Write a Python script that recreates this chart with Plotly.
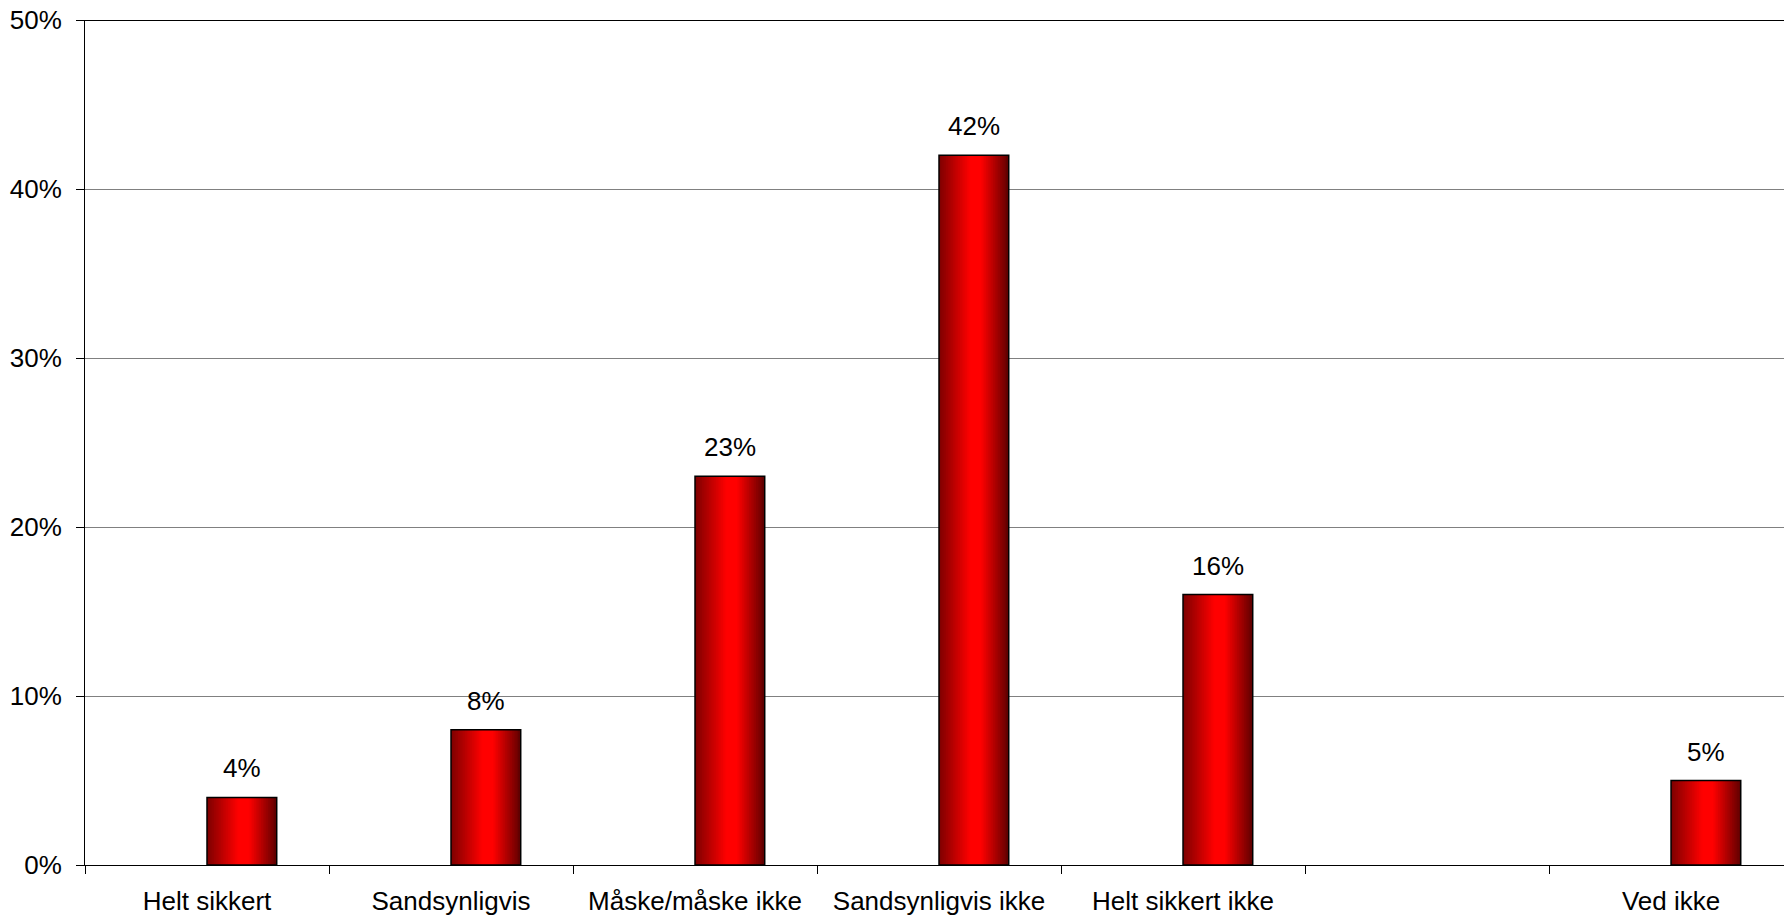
import plotly.graph_objects as go

categories = ["Helt sikkert", "Sandsynligvis", "Måske/måske ikke", "Sandsynligvis ikke",
              "Helt sikkert ikke", " ", "Ved ikke"]
values = [0.04, 0.08, 0.23, 0.42, 0.16, None, 0.05]
value_labels = ["4%", "8%", "23%", "42%", "16%", "", "5%"]
y_ticks = [0, 0.1, 0.2, 0.3, 0.4, 0.5]

FONT = "Liberation Sans, Arial, sans-serif"
bar_w = 1 / 3.5          # Excel gap width 150% with two series; shown series is the 2nd
bar_off = 0.0            # bar starts at category centre

# gradient stops (fraction across bar, rgb)
stops = [(0.0, (125, 0, 0)), (0.45, (255, 0, 0)), (0.6, (255, 0, 0)), (1.0, (95, 0, 0))]

def grad(t):
    for (t0, c0), (t1, c1) in zip(stops[:-1], stops[1:]):
        if t0 <= t <= t1:
            f = 0 if t1 == t0 else (t - t0) / (t1 - t0)
            return "rgb(%d,%d,%d)" % tuple(round(a + (b - a) * f) for a, b in zip(c0, c1))
    return "rgb(%d,%d,%d)" % stops[-1][1]

fig = go.Figure()
N = 40
sw = bar_w / N
for i in range(N):
    t = (i + 0.5) / N
    w = sw * 1.6 if i < N - 1 else sw
    fig.add_trace(go.Bar(
        x=categories, y=values,
        width=[w] * len(categories), offset=[bar_off + i * sw] * len(categories),
        marker=dict(color=grad(t), line=dict(width=0)),
        hoverinfo="skip", showlegend=False,
    ))

# outline
fig.add_trace(go.Bar(
    x=categories, y=values,
    width=[bar_w] * len(categories), offset=[bar_off] * len(categories),
    marker=dict(color="rgba(0,0,0,0)", line=dict(color="black", width=1.5)),
    showlegend=False,
))

for i, (v, lab) in enumerate(zip(values, value_labels)):
    if v is None:
        continue
    fig.add_annotation(x=i + bar_off + bar_w / 2, y=v, text=lab, showarrow=False,
                       yanchor="bottom", yshift=12,
                       font=dict(family=FONT, size=26, color="black"))

fig.add_shape(type="line", xref="paper", yref="y", x0=0, x1=1, y0=0.5, y1=0.5,
              line=dict(color="black", width=2))

fig.update_layout(
    width=1784, height=917,
    margin=dict(l=85, r=0, t=20, b=52),
    barmode="overlay",
    plot_bgcolor="white", paper_bgcolor="white",
    font=dict(family=FONT, size=26, color="black"),
    xaxis=dict(type="category", categoryorder="array", categoryarray=categories,
               range=[-0.5, 6.463], showline=True, linecolor="black", linewidth=1,
               ticks="outside", tickson="boundaries", ticklen=8, tickcolor="black",
               showgrid=False, ticklabelstandoff=13, automargin=False,
               tickfont=dict(family=FONT, size=26, color="black")),
    yaxis=dict(range=[0, 0.5], tickvals=y_ticks, tickformat=".0%",
               showline=True, linecolor="black", linewidth=1,
               ticks="outside", ticklen=8, tickcolor="black", automargin=False,
               ticklabelstandoff=9,
               showgrid=True, gridcolor="#808080", gridwidth=1, zeroline=False,
               tickfont=dict(family=FONT, size=26, color="black")),
)

fig.write_html("out.html", config={"displayModeBar": False},
               post_script="document.body.style.margin='0';document.body.style.overflow='hidden';")
